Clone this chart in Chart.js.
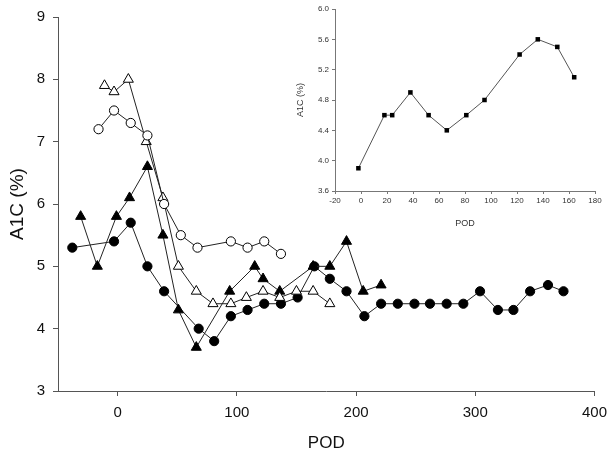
<!DOCTYPE html>
<html>
<head>
<meta charset="utf-8">
<script src="https://cdn.jsdelivr.net/npm/chart.js@4.4.1/dist/chart.umd.min.js"></script>
<style>
  html, body { margin: 0; padding: 0; background: #fff; }
  #wrap { position: relative; width: 615px; height: 457px; }
  #main { position: absolute; left: 0; top: 0; }
  #inset { position: absolute; left: 290px; top: 0; }
</style>
</head>
<body>
<div id="wrap">
  <canvas id="main" width="615" height="457"></canvas>
  <canvas id="inset" width="320" height="235"></canvas>
</div>
<script>
// ---- Main chart data ----
const filledCircleX = [-38, -3, 11, 25, 39, 68, 81, 95, 109, 123, 137, 151, 165, 178, 192, 207, 221, 235, 249, 262, 276, 290, 304, 319, 332, 346, 361, 374];
const filledCircleY = [5.3, 5.4, 5.7, 5.0, 4.6, 4.0, 3.8, 4.2, 4.3, 4.4, 4.4, 4.5, 5.0, 4.8, 4.6, 4.2, 4.4, 4.4, 4.4, 4.4, 4.4, 4.4, 4.6, 4.3, 4.3, 4.6, 4.7, 4.6];

const filledTriX = [-31, -17, -1, 10, 25, 38, 51, 66, 94, 115, 122, 136, 164, 178, 192, 206, 221];
const filledTriY = [5.8, 5.0, 5.8, 6.1, 6.6, 5.5, 4.3, 3.7, 4.6, 5.0, 4.8, 4.6, 5.0, 5.0, 5.4, 4.6, 4.7];

const openTriX = [-11, -3, 9, 24, 38, 51, 66, 80, 95, 108, 122, 136, 150, 164, 178];
const openTriY = [7.9, 7.8, 8.0, 7.0, 6.1, 5.0, 4.6, 4.4, 4.4, 4.5, 4.6, 4.5, 4.6, 4.6, 4.4];

const openCircleX = [-16, -3, 11, 25, 39, 53, 67, 95, 109, 123, 137];
const openCircleY = [7.2, 7.5, 7.3, 7.1, 6.0, 5.5, 5.3, 5.4, 5.3, 5.4, 5.2];

const mainXTicks = [0, 100, 200, 300, 400];
const mainYTicks = [3, 4, 5, 6, 7, 8, 9];

// ---- Inset data ----
const insetX = [-2, 18, 24, 38, 52, 66, 81, 95, 122, 136, 151, 164];
const insetY = [3.9, 4.6, 4.6, 4.9, 4.6, 4.4, 4.6, 4.8, 5.4, 5.6, 5.5, 5.1];

const insetXTicks = [-20, 0, 20, 40, 60, 80, 100, 120, 140, 160, 180];
const insetYTicks = [3.6, 4.0, 4.4, 4.8, 5.2, 5.6, 6.0];

function pts(xs, ys) { return xs.map((x, i) => ({ x: x, y: ys[i] })); }

const FONT = 'Arial, "Liberation Sans", sans-serif';
const LINE = '#222';

function ds(xs, ys, style, fill, radius) {
  return {
    data: pts(xs, ys),
    showLine: true,
    borderColor: LINE,
    borderWidth: 1,
    tension: 0,
    pointStyle: style,
    pointRadius: radius,
    pointHoverRadius: radius,
    pointBackgroundColor: fill,
    pointBorderColor: '#000',
    pointBorderWidth: 1
  };
}

new Chart(document.getElementById('main'), {
  type: 'scatter',
  data: {
    datasets: [
      ds(openCircleX, openCircleY, 'circle', '#fff', 4.6),
      ds(openTriX, openTriY, 'triangle', '#fff', 5.8),
      ds(filledTriX, filledTriY, 'triangle', '#000', 5.8),
      ds(filledCircleX, filledCircleY, 'circle', '#000', 4.6)
    ]
  },
  options: {
    responsive: false,
    animation: false,
    devicePixelRatio: 1,
    layout: { padding: { top: 14, right: 18, left: 0, bottom: 0 } },
    plugins: { legend: { display: false }, tooltip: { enabled: false } },
    scales: {
      x: {
        type: 'linear',
        min: -50, max: 400,
        afterBuildTicks: s => { s.ticks = mainXTicks.map(v => ({ value: v })); },
        afterFit: s => { s.height = 66; },
        grid: { drawOnChartArea: false, drawTicks: true, tickLength: 5, color: '#555' },
        border: { display: true, color: '#555', width: 1 },
        ticks: { color: '#111', font: { family: FONT, size: 15 }, padding: 8, maxRotation: 0 },
        title: { display: true, text: 'POD', color: '#111', font: { family: FONT, size: 17 }, padding: { top: 0, bottom: 3 } }
      },
      y: {
        type: 'linear',
        min: 3, max: 9,
        afterBuildTicks: s => { s.ticks = mainYTicks.map(v => ({ value: v })); },
        afterFit: s => { s.width = 58; },
        grid: { drawOnChartArea: false, drawTicks: true, tickLength: 5, color: '#555' },
        border: { display: true, color: '#555', width: 1 },
        ticks: { color: '#111', font: { family: FONT, size: 15 }, padding: 8 },
        title: { display: true, text: 'A1C (%)', color: '#111', font: { family: FONT, size: 19 }, padding: { top: 6, bottom: 0 } }
      }
    }
  }
});

new Chart(document.getElementById('inset'), {
  type: 'scatter',
  data: {
    datasets: [{
      data: pts(insetX, insetY),
      showLine: true,
      borderColor: '#555',
      borderWidth: 1,
      tension: 0,
      pointStyle: 'rect',
      pointRadius: 3.2,
      pointHoverRadius: 3.2,
      pointBackgroundColor: '#000',
      pointBorderColor: '#000',
      pointBorderWidth: 0
    }]
  },
  options: {
    responsive: false,
    animation: false,
    devicePixelRatio: 1,
    layout: { padding: { top: 9, right: 15, left: 0, bottom: 0 } },
    plugins: { legend: { display: false }, tooltip: { enabled: false } },
    scales: {
      x: {
        type: 'linear',
        min: -20, max: 180,
        afterBuildTicks: s => { s.ticks = insetXTicks.map(v => ({ value: v })); },
        afterFit: s => { s.height = 44; },
        grid: { drawOnChartArea: false, drawTicks: true, tickLength: 3, color: '#777' },
        border: { display: true, color: '#777', width: 1 },
        ticks: { color: '#333', font: { family: FONT, size: 8 }, padding: 2, maxRotation: 0, autoSkip: false },
        title: { display: true, text: 'POD', color: '#333', font: { family: FONT, size: 9 }, padding: { top: 0, bottom: 6 } }
      },
      y: {
        type: 'linear',
        min: 3.6, max: 6.0,
        afterBuildTicks: s => { s.ticks = insetYTicks.map(v => ({ value: v })); },
        afterFit: s => { s.width = 45; },
        grid: { drawOnChartArea: false, drawTicks: true, tickLength: 3, color: '#777' },
        border: { display: true, color: '#777', width: 1 },
        ticks: { color: '#333', font: { family: FONT, size: 8 }, padding: 3, autoSkip: false, callback: v => Number(v).toFixed(1) },
        title: { display: true, text: 'A1C (%)', color: '#333', font: { family: FONT, size: 9 }, padding: { top: 5, bottom: 0 } }
      }
    }
  }
});
</script>
</body>
</html>
